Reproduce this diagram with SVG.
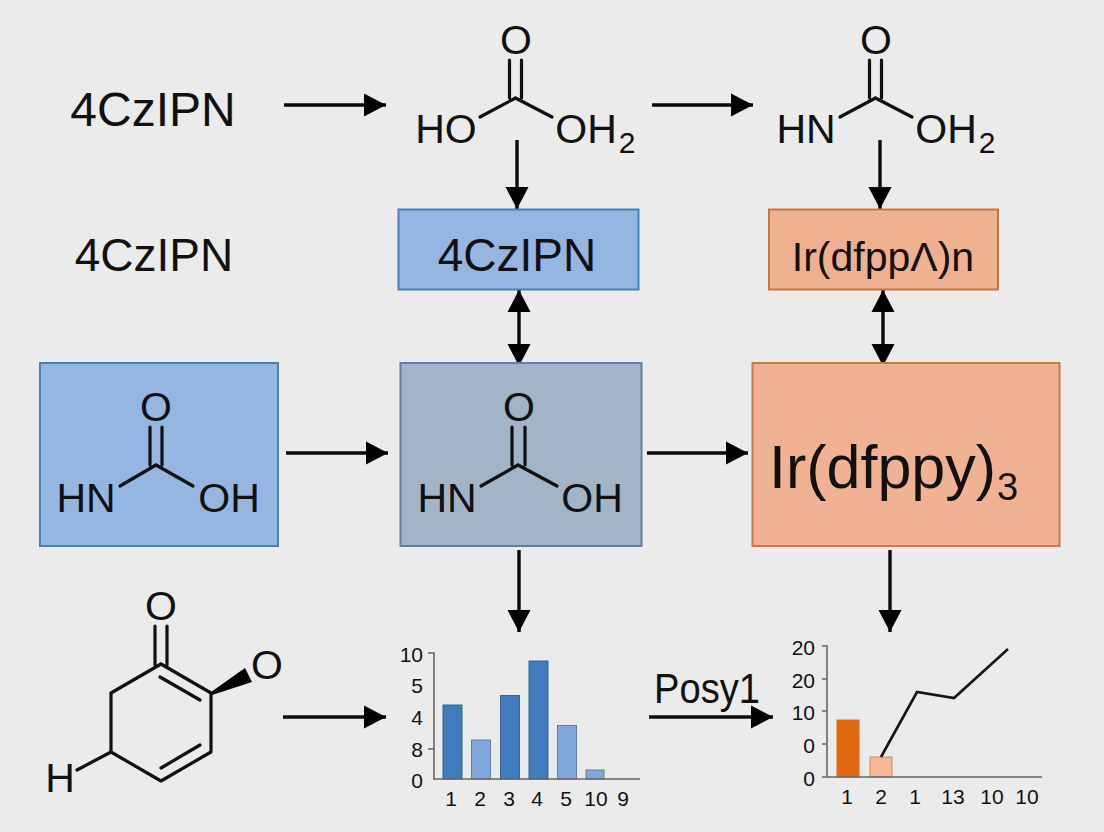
<svg xmlns="http://www.w3.org/2000/svg" width="1104" height="832" viewBox="0 0 1104 832">
<style>
text{font-family:"Liberation Sans",Arial,sans-serif;fill:#111}
.c{stroke:#0a0a0a;stroke-width:3.400;fill:none}
.b{stroke:#111;stroke-width:3.200;fill:none;stroke-linecap:round;stroke-linejoin:round}
.ax{stroke:#666;stroke-width:1.600;fill:none}
.m{text-anchor:middle}
.e{font-size:41px}
.t{font-size:21px;text-anchor:middle}
.y{font-size:21px;text-anchor:end}
.db{fill:#3f7cbd;stroke:#35659c}
.lb{fill:#7fa7dc;stroke:#5f7fa8}
</style>
<defs>
<marker id="a" markerUnits="userSpaceOnUse" markerWidth="26" markerHeight="26" refX="22" refY="13" orient="auto-start-reverse"><path d="M0 1.500L22 13L0 24.500z" fill="#000"/></marker>
</defs>
<rect width="1104" height="832" fill="#ebebeb"/>
<g id="connectors">
<path class="c" marker-end="url(#a)" d="M284 105H386"/>
<path class="c" marker-end="url(#a)" d="M652 105H753"/>
<path class="c" marker-end="url(#a)" d="M517 140V209"/>
<path class="c" marker-end="url(#a)" d="M880 140V209"/>
<path class="c" marker-start="url(#a)" marker-end="url(#a)" d="M519 290V366"/>
<path class="c" marker-start="url(#a)" marker-end="url(#a)" d="M883 290V366"/>
<path class="c" marker-end="url(#a)" d="M286 453H388"/>
<path class="c" marker-end="url(#a)" d="M647 453H748"/>
<path class="c" marker-end="url(#a)" d="M519 550V632"/>
<path class="c" marker-end="url(#a)" d="M890 550V632"/>
<path class="c" marker-end="url(#a)" d="M283 717H386"/>
<path class="c" marker-end="url(#a)" d="M649 717H773"/>
</g>
<g id="label-top-left"><text x="153" y="126" class="m" font-size="48">4CzIPN</text></g>
<g id="label-second-left"><text x="154" y="271" class="m" font-size="46">4CzIPN</text></g>
<g id="mol-top-1">
<path class="b" d="M509.500 60V98M521.500 60V98M515.500 98L480 117M515.500 98L552 117"/>
<text x="516" y="54" class="m e">O</text>
<text x="446" y="143" class="m e">HO</text>
<text x="586" y="143" class="m e">OH</text><text x="627" y="153" class="m" font-size="30">2</text>
</g>
<g id="mol-top-2">
<path class="b" d="M869.500 60V98M881.500 60V98M875.500 98L840 117M875.500 98L912 117"/>
<text x="876" y="54" class="m e">O</text>
<text x="806" y="143" class="m e">HN</text>
<text x="946" y="143" class="m e">OH</text><text x="987" y="153" class="m" font-size="30">2</text>
</g>
<g id="box-4czipn">
<rect x="398.500" y="209.500" width="240" height="80" fill="#94b6e0" stroke="#4b7fb8" stroke-width="2"/>
<text x="517" y="271" class="m" font-size="46">4CzIPN</text>
</g>
<g id="box-irn">
<rect x="769" y="209.500" width="229" height="80" fill="#efb08f" stroke="#c9743c" stroke-width="2"/>
<text x="883" y="271" class="m" font-size="41">Ir(dfppΛ)n</text>
</g>
<g id="box-left">
<rect x="40" y="363" width="238" height="183" fill="#94b6e0" stroke="#4b7fb8" stroke-width="2"/>
<path class="b" d="M150 427V465M162 427V465M156 465L120 486M156 465L193 486"/>
<text x="156" y="421" class="m e">O</text>
<text x="86" y="512" class="m e">HN</text>
<text x="229" y="512" class="m e">OH</text>
</g>
<g id="box-mid">
<rect x="400.500" y="363" width="241" height="183" fill="#a3b3c8" stroke="#5e80a8" stroke-width="2"/>
<path class="b" d="M512 427V465M525 427V465M518 465L481 486M518 465L557 486"/>
<text x="519" y="421" class="m e">O</text>
<text x="447" y="512" class="m e">HN</text>
<text x="592" y="512" class="m e">OH</text>
</g>
<g id="box-ir">
<rect x="752.500" y="363" width="307" height="183" fill="#f0b292" stroke="#c67b47" stroke-width="2"/>
<text x="769" y="488" font-size="61">Ir(dfppy)</text><text x="997" y="500" font-size="38">3</text>
</g>
<g id="mol-bottom">
<path class="b" d="M155 626V665M167 626V665M161 664L111 693V752L161 781L211 752V693L161 664M160 677L200 700M161 768L200 745M111 752L77 770"/>
<path d="M211 692L245 668L252 682L212 695z" fill="#000"/>
<text x="161" y="620" class="m e">O</text>
<text x="267" y="679" class="m e">O</text>
<text x="60" y="792" class="m e">H</text>
</g>
<g id="chart-1">
<rect class="db" x="443" y="705" width="19" height="74"/>
<rect class="lb" x="471.500" y="740" width="19" height="39"/>
<rect class="db" x="500.500" y="695.500" width="19" height="83.500"/>
<rect class="db" x="529" y="661" width="19" height="118"/>
<rect class="lb" x="557.500" y="725.500" width="19" height="53.500"/>
<rect class="lb" x="586" y="770" width="18" height="9"/>
<path class="ax" d="M428 653H434V779M428 749H434M433 779H640"/>
<text x="423" y="662" class="y">10</text><text x="423" y="693" class="y">5</text><text x="423" y="725" class="y">4</text><text x="423" y="757" class="y">8</text><text x="423" y="788" class="y">0</text>
<text x="451" y="806" class="t">1</text><text x="480" y="806" class="t">2</text><text x="509" y="806" class="t">3</text><text x="537" y="806" class="t">4</text><text x="566" y="806" class="t">5</text><text x="596" y="806" class="t">10</text><text x="623" y="806" class="t">9</text>
</g>
<g id="label-posy"><text x="654" y="703" font-size="43" textLength="106" lengthAdjust="spacingAndGlyphs">Posy1</text></g>
<g id="chart-2">
<rect x="837" y="720" width="22" height="57" fill="#e0690f" stroke="#d2701f"/>
<rect x="870" y="757" width="22" height="20" fill="#f6bb96" stroke="#c98a66"/>
<path class="ax" d="M822 646H827V777M822 679H827M822 711H827M822 744H827M822 777H1042"/>
<path d="M881 757L917 692L954 698L1008 649" fill="none" stroke="#151515" stroke-width="2.600"/>
<text x="815" y="655" class="y">20</text><text x="815" y="688" class="y">20</text><text x="815" y="720" class="y">10</text><text x="815" y="753" class="y">0</text><text x="815" y="786" class="y">0</text>
<text x="847" y="804" class="t">1</text><text x="881" y="804" class="t">2</text><text x="915" y="804" class="t">1</text><text x="953" y="804" class="t">13</text><text x="992" y="804" class="t">10</text><text x="1027" y="804" class="t">10</text>
</g>
</svg>
